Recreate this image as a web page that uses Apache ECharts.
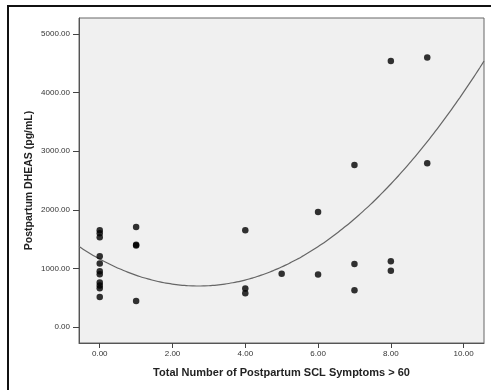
<!DOCTYPE html>
<html>
<head>
<meta charset="utf-8">
<script src="https://cdn.jsdelivr.net/npm/echarts@6/dist/echarts.min.js"></script>
<style>
  html, body { margin: 0; padding: 0; background: #fff; }
  #chart { width: 491px; height: 390px; }
</style>
</head>
<body>
<div id="chart"></div>
<script>
// symptoms count (x) and DHEAS value (y) for each subject
const symptoms = [0,0,0,0,0,0,0,0,0,0,0, 1,1,1,1, 4,4,4, 5, 6,6, 7,7,7, 8,8,8, 9,9];
const dheas = [1650,1600,1530,1205,1085,950,900,760,710,660,510,
               1705,1405,1390,445,
               1650,655,575,
               910,
               1960,895,
               2765,1075,625,
               4540,1120,960,
               4600,2795];
const xTicks = [0, 2, 4, 6, 8, 10];
const yTicks = [0, 1000, 2000, 3000, 4000, 5000];
const xRange = [-0.57, 10.56];
const yRange = [-273, 5272];

// least squares quadratic fit
function quadFit(xs, ys) {
  let s = [0,0,0,0,0], t = [0,0,0];
  xs.forEach((x, i) => {
    for (let k = 0; k < 5; k++) s[k] += Math.pow(x, k);
    for (let k = 0; k < 3; k++) t[k] += ys[i] * Math.pow(x, k);
  });
  const m = [[s[0],s[1],s[2],t[0]],[s[1],s[2],s[3],t[1]],[s[2],s[3],s[4],t[2]]];
  for (let i = 0; i < 3; i++) {
    for (let j = i + 1; j < 3; j++) {
      const f = m[j][i] / m[i][i];
      for (let k = i; k < 4; k++) m[j][k] -= f * m[i][k];
    }
  }
  const c = [0,0,0];
  for (let i = 2; i >= 0; i--) {
    let v = m[i][3];
    for (let k = i + 1; k < 3; k++) v -= m[i][k] * c[k];
    c[i] = v / m[i][i];
  }
  return c;
}
const coef = quadFit(symptoms, dheas);
const fitLine = [];
for (let i = 0; i <= 100; i++) {
  const x = xRange[0] + (xRange[1] - xRange[0]) * i / 100;
  fitLine.push([x, coef[0] + coef[1] * x + coef[2] * x * x]);
}

const chart = echarts.init(document.getElementById('chart'));
chart.setOption({
  animation: false,
  textStyle: { fontFamily: 'Liberation Sans, Arial, sans-serif' },
  graphic: [{
    type: 'rect',
    shape: { x: 8, y: 6, width: 500, height: 400 },
    style: { fill: 'none', stroke: '#111', lineWidth: 2 },
    z: -1
  }],
  grid: {
    left: 79, top: 18, right: 7, bottom: 47,
    show: true, backgroundColor: '#f0f0f0',
    borderColor: '#666', borderWidth: 1
  },
  xAxis: {
    type: 'value', min: xRange[0], max: xRange[1],
    name: 'Total Number of Postpartum SCL Symptoms > 60',
    nameLocation: 'middle', nameGap: 24, nameMoveOverlap: false,
    nameTextStyle: { fontSize: 11, fontWeight: 'bold', color: '#222' },
    axisLine: { show: true, onZero: false, lineStyle: { color: '#555' } },
    axisTick: { show: true, customValues: xTicks, length: 5, lineStyle: { color: '#444' } },
    axisLabel: { customValues: xTicks, fontSize: 8, color: '#333', margin: 7,
      formatter: v => v.toFixed(2) },
    splitLine: { show: false }
  },
  yAxis: {
    type: 'value', min: yRange[0], max: yRange[1],
    name: 'Postpartum DHEAS (pg/mL)',
    nameLocation: 'middle', nameGap: 44, nameMoveOverlap: false,
    nameTextStyle: { fontSize: 10.5, fontWeight: 'bold', color: '#222' },
    axisLine: { show: true, onZero: false, lineStyle: { color: '#555' } },
    axisTick: { show: true, customValues: yTicks, length: 6, lineStyle: { color: '#444' } },
    axisLabel: { customValues: yTicks, fontSize: 8, color: '#333', margin: 9,
      formatter: v => v.toFixed(2) },
    splitLine: { show: false }
  },
  series: [{
    type: 'line',
    data: fitLine,
    showSymbol: false,
    smooth: true,
    lineStyle: { color: '#666', width: 1.2 },
    z: 2
  }, {
    type: 'scatter',
    data: symptoms.map((x, i) => [x, dheas[i]]),
    symbolSize: 6.5,
    itemStyle: { color: '#000' },
    z: 3
  }]
});
</script>
</body>
</html>
